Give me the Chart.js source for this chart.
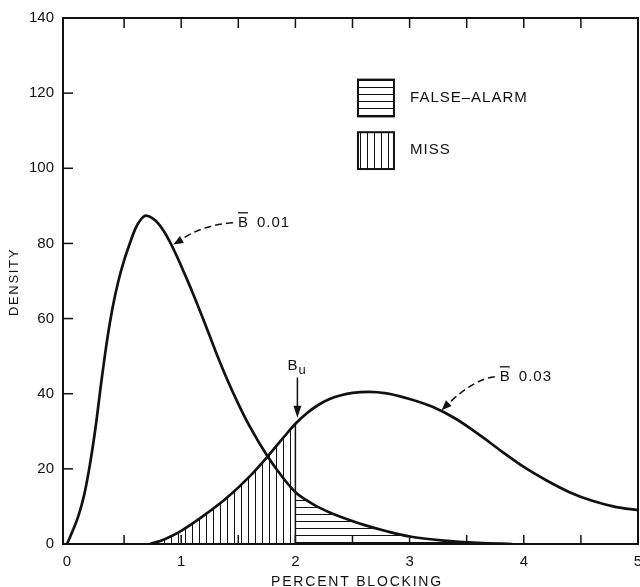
<!DOCTYPE html>
<html>
<head>
<meta charset="utf-8">
<script src="https://cdn.jsdelivr.net/npm/chart.js@4/dist/chart.umd.min.js"></script>
<style>
  html, body { margin: 0; padding: 0; background: #fff; }
  #wrap { width: 640px; height: 587px; position: relative; }
</style>
</head>
<body>
<div id="wrap"><canvas id="chart"></canvas></div>
<script>
/* ---- data ---- */
// density curve, mean blocking 0.01
const curve1X = [0, 0.05, 0.1, 0.15, 0.2, 0.25, 0.3, 0.35, 0.4, 0.45, 0.5, 0.55, 0.6, 0.65, 0.69, 0.75, 0.8, 0.85, 0.9, 0.95, 1.0, 1.05, 1.1, 1.2, 1.3, 1.4, 1.5, 1.6, 1.757, 1.9, 2.0, 2.1, 2.2, 2.3, 2.4, 2.6, 2.8, 3.0, 3.3, 3.6, 3.9];
const curve1Y = [0, 3.5, 7.5, 13, 21, 31, 43, 54, 63, 70, 75.5, 80, 84, 86.5, 87.4, 86.7, 85.3, 83.2, 80.5, 77.4, 74.0, 70.5, 66.9, 59.3, 51.4, 44.0, 37.3, 31.3, 23.3, 17.3, 13.8, 11.6, 9.8, 8.4, 7.2, 5.1, 3.4, 2.0, 0.9, 0.3, 0];
// density curve, mean blocking 0.03
const curve2X = [0.727, 0.85, 1.0, 1.2, 1.4, 1.6, 1.757, 1.9, 2.0, 2.1, 2.2, 2.3, 2.4, 2.5, 2.64, 2.8, 3.0, 3.2, 3.4, 3.6, 3.8, 4.0, 4.2, 4.4, 4.6, 4.8, 5.0];
const curve2Y = [0, 1.2, 3.5, 7.6, 12.3, 18, 23.3, 28.5, 32, 34.8, 37, 38.6, 39.6, 40.2, 40.5, 40.1, 38.6, 36.5, 33.4, 29.3, 24.8, 20.5, 16.9, 13.8, 11.5, 9.9, 9.0];
// threshold B_u
const BU = 2.0;
const xTicks = [0, 1, 2, 3, 4, 5];
const xMinorTicks = [0.5, 1, 1.5, 2, 2.5, 3, 3.5, 4, 4.5];
const yTicks = [0, 20, 40, 60, 80, 100, 120, 140];

const INK = '#111';
const FONT = '"Liberation Sans", Arial, sans-serif';

function toPoints(xs, ys) { return xs.map((x, i) => ({ x, y: ys[i] })); }
const pts1 = toPoints(curve1X, curve1Y);
const pts2 = toPoints(curve2X, curve2Y);
const missPts = pts2.filter(p => p.x <= BU);     // under 0.03 curve, left of B_u
const faPts = pts1.filter(p => p.x >= BU);       // under 0.01 curve, right of B_u
const buTop = curve2Y[curve2X.indexOf(BU)];

function makeHatch(dir) {
  const c = document.createElement('canvas');
  c.width = 7; c.height = 7;
  const g = c.getContext('2d');
  g.fillStyle = INK;
  if (dir === 'h') g.fillRect(0, 3, 7, 1);
  else g.fillRect(3, 0, 1, 7);
  return g.createPattern(c, 'repeat');
}
const hatchH = makeHatch('h');
const hatchV = makeHatch('v');

/* ---- overlay: frame, inward ticks, legend, labels, arrows ---- */
function line(ctx, x1, y1, x2, y2) {
  ctx.beginPath(); ctx.moveTo(x1, y1); ctx.lineTo(x2, y2); ctx.stroke();
}
function arrowHead(ctx, tx, ty, fx, fy, len = 10, wid = 4) {
  const a = Math.atan2(ty - fy, tx - fx);
  ctx.beginPath();
  ctx.moveTo(tx, ty);
  ctx.lineTo(tx - len * Math.cos(a) + wid * Math.sin(a), ty - len * Math.sin(a) - wid * Math.cos(a));
  ctx.lineTo(tx - len * Math.cos(a) - wid * Math.sin(a), ty - len * Math.sin(a) + wid * Math.cos(a));
  ctx.closePath(); ctx.fill();
}
function barB(ctx, px, py, rest) {
  // "B" with an overbar, then the rest of the label
  ctx.textBaseline = 'middle'; ctx.textAlign = 'left';
  ctx.fillText('B', px, py);
  const w = ctx.measureText('B').width;
  ctx.lineWidth = 1.3;
  line(ctx, px, py - 10, px + w - 1, py - 10);
  ctx.fillText(rest, px + w + 8, py);
}

const overlay = {
  id: 'overlay',
  afterDraw(chart) {
    const { ctx, chartArea: a, scales: { x, y } } = chart;
    ctx.save();
    ctx.strokeStyle = INK; ctx.fillStyle = INK;

    // B_u boundary line
    ctx.lineWidth = 1.5;
    const bx = x.getPixelForValue(BU);
    line(ctx, bx, y.getPixelForValue(0), bx, y.getPixelForValue(buTop));

    // frame
    ctx.lineWidth = 2;
    ctx.strokeRect(a.left, a.top, a.width, a.height);

    // inward ticks
    ctx.lineWidth = 1.5;
    xMinorTicks.forEach(v => {
      const px = x.getPixelForValue(v);
      line(ctx, px, a.top, px, a.top + 10);
      line(ctx, px, a.bottom, px, a.bottom - 9);
    });
    yTicks.slice(1, -1).forEach(v => {
      const py = y.getPixelForValue(v);
      line(ctx, a.left, py, a.left + 10, py);
    });

    // legend
    ctx.font = '15px ' + FONT;
    ctx.letterSpacing = '1px';
    const boxes = [
      { y0: 123.6, y1: 113.8, fill: hatchH, text: 'FALSE\u2013ALARM', ty: 118.8 },
      { y0: 109.6, y1: 99.8, fill: hatchV, text: 'MISS', ty: 105 },
    ];
    const lx0 = x.getPixelForValue(2.548), lx1 = x.getPixelForValue(2.863);
    boxes.forEach(b => {
      const t = y.getPixelForValue(b.y0), btm = y.getPixelForValue(b.y1);
      ctx.fillStyle = b.fill;
      ctx.fillRect(lx0, t, lx1 - lx0, btm - t);
      ctx.fillStyle = INK; ctx.lineWidth = 2;
      ctx.strokeRect(lx0, t, lx1 - lx0, btm - t);
      ctx.textAlign = 'left'; ctx.textBaseline = 'middle';
      ctx.fillText(b.text, x.getPixelForValue(3.004), y.getPixelForValue(b.ty));
    });

    // B-bar 0.01 label + dashed arrow
    ctx.letterSpacing = '1px';
    const l1x = x.getPixelForValue(1.497), l1y = y.getPixelForValue(85.5);
    barB(ctx, l1x, l1y, '0.01');
    const t1x = x.getPixelForValue(0.931), t1y = y.getPixelForValue(79.7);
    ctx.lineWidth = 1.5; ctx.setLineDash([7, 4]);
    ctx.beginPath(); ctx.moveTo(l1x - 5, l1y);
    ctx.quadraticCurveTo(l1x - 35, l1y + 2, t1x + 8, t1y - 5); ctx.stroke();
    ctx.setLineDash([]);
    arrowHead(ctx, t1x, t1y, t1x + 12, t1y - 7);

    // B-bar 0.03 label + dashed arrow
    const l2x = x.getPixelForValue(3.79), l2y = y.getPixelForValue(44.5);
    barB(ctx, l2x, l2y, '0.03');
    const t2x = x.getPixelForValue(3.281), t2y = y.getPixelForValue(35.6);
    ctx.lineWidth = 1.5; ctx.setLineDash([7, 4]);
    ctx.beginPath(); ctx.moveTo(l2x - 5, l2y);
    ctx.quadraticCurveTo(l2x - 25, l2y + 2, t2x + 7, t2y - 7); ctx.stroke();
    ctx.setLineDash([]);
    arrowHead(ctx, t2x, t2y, t2x + 10, t2y - 10);

    // B_u label + solid arrow
    const ux = x.getPixelForValue(BU), uy = y.getPixelForValue(47.5);
    ctx.letterSpacing = '0px';
    ctx.textAlign = 'right'; ctx.textBaseline = 'middle';
    ctx.font = '15px ' + FONT;
    ctx.fillText('B', ux + 2, uy);
    ctx.font = '13px ' + FONT; ctx.textAlign = 'left';
    ctx.fillText('u', ux + 3, uy + 5);
    const tipY = y.getPixelForValue(buTop + 1.6);
    ctx.lineWidth = 1.5;
    line(ctx, ux + 2, uy + 12, ux + 2, tipY - 6);
    arrowHead(ctx, ux + 2, tipY, ux + 2, tipY - 12, 12, 4);

    // axis titles
    ctx.font = '13px ' + FONT;
    ctx.letterSpacing = '1.7px';
    ctx.textAlign = 'center'; ctx.textBaseline = 'middle';
    ctx.save();
    ctx.translate(14, (a.top + a.bottom) / 2 + 1);
    ctx.rotate(-Math.PI / 2);
    ctx.fillText('DENSITY', 0, 0);
    ctx.restore();
    ctx.font = '14px ' + FONT;
    ctx.letterSpacing = '1.8px';
    ctx.textBaseline = 'alphabetic';
    ctx.fillText('PERCENT BLOCKING', 357, 586);
    ctx.restore();
  }
};

const lineDs = (data) => ({
  data, borderColor: INK, borderWidth: 2.7, pointRadius: 0,
  cubicInterpolationMode: 'monotone', fill: false,
});
const hatchDs = (data, pattern) => ({
  data, borderWidth: 0, borderColor: 'transparent', pointRadius: 0,
  cubicInterpolationMode: 'monotone', fill: 'origin', backgroundColor: pattern,
});

new Chart(document.getElementById('chart'), {
  type: 'line',
  data: {
    datasets: [
      lineDs(pts1),
      lineDs(pts2),
      hatchDs(missPts, hatchV),
      hatchDs(faPts, hatchH),
    ]
  },
  options: {
    responsive: true, maintainAspectRatio: false, animation: false,
    layout: { padding: { top: 17, right: 2, left: 0, bottom: 0 } },
    plugins: { legend: { display: false }, tooltip: { enabled: false } },
    scales: {
      x: {
        type: 'linear', min: -0.035, max: 5,
        grid: { display: false, drawTicks: false }, border: { display: false },
        afterBuildTicks: s => { s.ticks = xTicks.map(v => ({ value: v })); },
        afterFit: s => { s.height = 43; s.paddingLeft = 0; s.paddingRight = 0; },
        ticks: { color: INK, padding: 9, font: { family: FONT, size: 15 }, maxRotation: 0 }
      },
      y: {
        min: 0, max: 140,
        grid: { display: false, drawTicks: false }, border: { display: false },
        afterBuildTicks: s => { s.ticks = yTicks.map(v => ({ value: v })); },
        afterFit: s => { s.width = 63; },
        ticks: { color: INK, padding: 9, font: { family: FONT, size: 15 } }
      }
    }
  },
  plugins: [overlay]
});
</script>
</body>
</html>
